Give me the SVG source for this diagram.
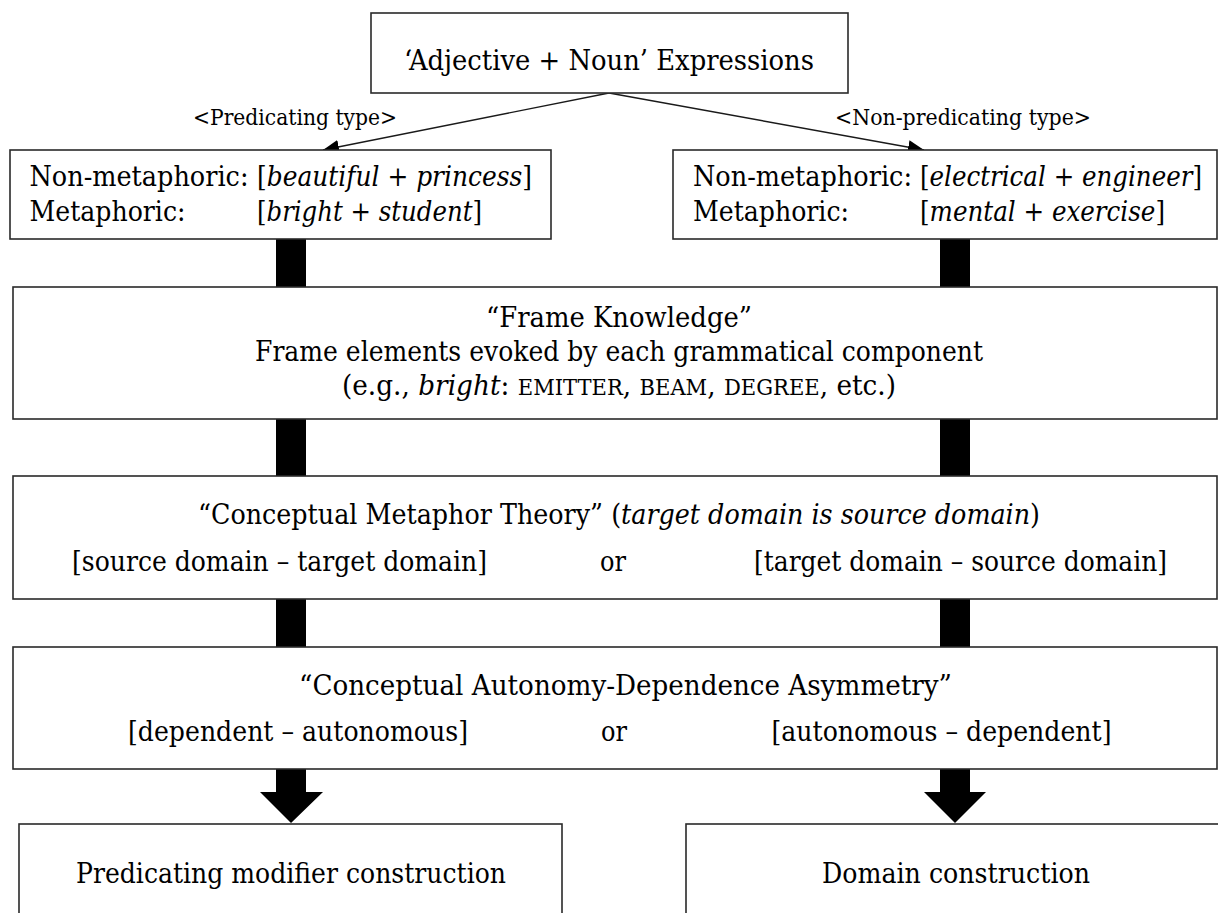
<svg xmlns="http://www.w3.org/2000/svg" width="1218" height="913" viewBox="0 0 1218 913">
  <style>
    .box { fill: #ffffff; stroke: #2a2a2a; stroke-width: 1.6; }
    .big { font-family: 'DejaVu Serif', 'Liberation Serif', serif; font-size: 27.5px; fill: #000; }
    .lbl { font-family: 'DejaVu Serif', 'Liberation Serif', serif; font-size: 23px; fill: #000; }
    .it { font-style: italic; }
    .sc { font-size: 22px; }
    .thin { stroke: #1a1a1a; stroke-width: 1.4; fill: none; }
    .bar { fill: #000; }
  </style>
  <defs>
    <marker id="head" markerUnits="userSpaceOnUse" markerWidth="18" markerHeight="14" refX="16" refY="7" orient="auto">
      <path d="M0,0 L16,7 L0,14 Z" fill="#000"/>
    </marker>
  </defs>

  <rect width="1218" height="913" fill="#ffffff"/>

  <!-- connectors -->
  <g id="connectors">
    <line class="thin" x1="609" y1="93" x2="323" y2="150" marker-end="url(#head)"/>
    <line class="thin" x1="609" y1="93" x2="924" y2="150" marker-end="url(#head)"/>
    <!-- thick bars between stacked boxes -->
    <rect class="bar" x="276" y="239" width="30" height="48"/>
    <rect class="bar" x="940" y="239" width="30" height="48"/>
    <rect class="bar" x="276" y="419" width="30" height="57"/>
    <rect class="bar" x="940" y="419" width="30" height="57"/>
    <rect class="bar" x="276" y="599" width="30" height="48"/>
    <rect class="bar" x="940" y="599" width="30" height="48"/>
    <!-- block arrows into the result boxes -->
    <path class="bar" d="M276,769 H306 V792 H323 L291,823 L260,792 H276 Z"/>
    <path class="bar" d="M940,769 H970 V792 H986 L955,823 L924,792 H940 Z"/>
  </g>

  <g id="root">
    <rect class="box" x="371" y="13" width="477" height="80"/>
    <text class="big" x="404" y="70" textLength="410" lengthAdjust="spacingAndGlyphs">‘Adjective + Noun’ Expressions</text>
  </g>

  <g id="labels">
    <text class="lbl" x="193" y="125" textLength="204" lengthAdjust="spacingAndGlyphs">&lt;Predicating type&gt;</text>
    <text class="lbl" x="835" y="125" textLength="256" lengthAdjust="spacingAndGlyphs">&lt;Non-predicating type&gt;</text>
  </g>

  <g id="predicating">
    <rect class="box" x="10" y="150" width="541" height="89"/>
    <text class="big" y="186"><tspan x="29.5" textLength="219" lengthAdjust="spacingAndGlyphs">Non-metaphoric:</tspan><tspan x="257" textLength="275" lengthAdjust="spacingAndGlyphs">[<tspan class="it">beautiful</tspan> + <tspan class="it">princess</tspan>]</tspan></text>
    <text class="big" y="221"><tspan x="29.5" textLength="156" lengthAdjust="spacingAndGlyphs">Metaphoric:</tspan><tspan x="257" textLength="225" lengthAdjust="spacingAndGlyphs">[<tspan class="it">bright</tspan> + <tspan class="it">student</tspan>]</tspan></text>
  </g>

  <g id="non-predicating">
    <rect class="box" x="673" y="150" width="544" height="89"/>
    <text class="big" y="186"><tspan x="693" textLength="219" lengthAdjust="spacingAndGlyphs">Non-metaphoric:</tspan><tspan x="920" textLength="282" lengthAdjust="spacingAndGlyphs">[<tspan class="it">electrical</tspan> + <tspan class="it">engineer</tspan>]</tspan></text>
    <text class="big" y="221"><tspan x="693" textLength="156" lengthAdjust="spacingAndGlyphs">Metaphoric:</tspan><tspan x="920" textLength="245" lengthAdjust="spacingAndGlyphs">[<tspan class="it">mental</tspan> + <tspan class="it">exercise</tspan>]</tspan></text>
  </g>

  <g id="frame-knowledge">
    <rect class="box" x="13" y="287" width="1204" height="132"/>
    <text class="big" x="486" y="327" textLength="266" lengthAdjust="spacingAndGlyphs">“Frame Knowledge”</text>
    <text class="big" x="255" y="361" textLength="728" lengthAdjust="spacingAndGlyphs">Frame elements evoked by each grammatical component</text>
    <text class="big" x="342" y="395" textLength="554" lengthAdjust="spacingAndGlyphs">(e.g., <tspan class="it">bright</tspan>: <tspan class="sc">EMITTER</tspan>, <tspan class="sc">BEAM</tspan>, <tspan class="sc">DEGREE</tspan>, etc.)</text>
  </g>

  <g id="metaphor-theory">
    <rect class="box" x="13" y="476" width="1204" height="123"/>
    <text class="big" x="198" y="524" textLength="842" lengthAdjust="spacingAndGlyphs">“Conceptual Metaphor Theory” (<tspan class="it">target domain is source domain</tspan>)</text>
    <text class="big" y="571"><tspan x="72" textLength="415" lengthAdjust="spacingAndGlyphs">[source domain – target domain]</tspan><tspan x="600" textLength="26" lengthAdjust="spacingAndGlyphs">or</tspan><tspan x="754" textLength="413" lengthAdjust="spacingAndGlyphs">[target domain – source domain]</tspan></text>
  </g>

  <g id="asymmetry">
    <rect class="box" x="13" y="647" width="1204" height="122"/>
    <text class="big" x="299" y="695" textLength="653" lengthAdjust="spacingAndGlyphs">“Conceptual Autonomy-Dependence Asymmetry”</text>
    <text class="big" y="741"><tspan x="128" textLength="340" lengthAdjust="spacingAndGlyphs">[dependent – autonomous]</tspan><tspan x="601" textLength="26" lengthAdjust="spacingAndGlyphs">or</tspan><tspan x="771.5" textLength="340" lengthAdjust="spacingAndGlyphs">[autonomous – dependent]</tspan></text>
  </g>

  <g id="predicating-construction">
    <rect class="box" x="19" y="824" width="543" height="110"/>
    <text class="big" x="76" y="883" textLength="430" lengthAdjust="spacingAndGlyphs">Predicating modifier construction</text>
  </g>

  <g id="domain-construction">
    <rect class="box" x="686" y="824" width="560" height="110"/>
    <text class="big" x="822" y="883" textLength="268" lengthAdjust="spacingAndGlyphs">Domain construction</text>
  </g>
</svg>
